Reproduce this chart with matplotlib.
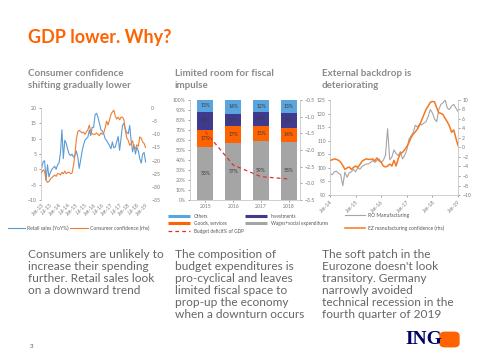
import matplotlib
matplotlib.use("Agg")
import matplotlib.pyplot as plt
import numpy as np

plt.rcParams['font.family'] = ['Lato', 'DejaVu Sans']

# ---- chart 1: retail sales vs consumer confidence (monthly, Jan-13 .. Jan-19)
retail_sales = [0.5, 2.5, 2.8, -3.5, 1.5, -2.5, -1.0, 0.0, 0.5, 1.0, 0.0, 1.5,
                2.0, 5.5, 12.9, 3.5, 9.5, 8.5, 6.5, 5.0, 4.5, 5.0, 4.0, 4.5,
                6.0, 4.0, 0.3, 3.0, 6.0, 8.0, 9.5, 10.0, 10.5, 12.7, 11.0, 13.7,
                13.7, 17.8, 18.3, 17.0, 15.0, 13.0, 12.5, 11.6, 10.0, 9.4, 8.5, 7.8,
                6.7, 8.9, 7.0, 7.3, 9.0, 10.7, 6.2, 10.2, 14.3, 15.0, 13.0, 12.0,
                11.6, 14.3, 9.4, 5.7, 8.0, 5.0, 7.3, 6.0, 3.5, 2.0, 5.0, 5.5, 2.4]
consumer_conf = [-24.5, -23.5, -24.0, -27.5, -28.3, -28.0, -27.0, -26.5, -26.0, -25.5, -26.0, -25.0,
                 -25.0, -25.5, -24.5, -25.0, -24.0, -25.0, -24.5, -24.5, -25.0, -24.8, -22.0, -18.0,
                 -12.0, -9.0, -8.5, -9.0, -9.5, -9.2, -10.0, -9.0, -8.3, -6.5, -9.0, -9.8,
                 -10.0, -10.0, -9.5, -10.0, -10.5, -9.5, -10.0, -9.5, -7.5, -5.0, -6.5, -4.5,
                 -2.5, -1.5, -0.8, -3.0, -4.2, -3.5, -4.5, -3.5, -3.5, -4.5, -8.5, -11.5,
                 -12.3, -14.2, -13.5, -12.5, -15.0, -15.5, -14.0, -14.5, -11.0, -11.5, -13.0, -13.5, -15.0]
c1_ticklabels = ["Jan-13", "Jul-13", "Jan-14", "Jul-14", "Jan-15", "Jul-15", "Jan-16",
                 "Jul-16", "Jan-17", "Jul-17", "Jan-18", "Jul-18", "Jan-19"]

# ---- chart 2: budget expenditure structure
years = ["2015", "2016", "2017", "2018"]
wages = [53, 57, 59, 58]
goods = [17, 17, 15, 14]
investments = [18, 12, 14, 15]
others = [13, 14, 12, 13]
deficit = [-1.45, -2.45, -2.8, -2.87]

# ---- chart 3: RO manufacturing vs EZ confidence (monthly, Jan-14 .. Jan-19)
ro_manuf = [97.8, 97.5, 98.5, 98.8, 98.0, 97.5, 93.4, 98.5, 96.5, 98.2, 98.5, 99.5,
            98.5, 100.0, 99.5, 100.5, 101.0, 101.4, 101.5, 102.0, 102.7, 102.0, 102.8, 103.3,
            102.0, 102.8, 104.6, 114.4, 103.0, 104.0, 106.6, 105.3, 104.5, 106.0, 103.3, 104.6,
            106.6, 110.5, 111.8, 113.0, 115.7, 115.0, 116.3, 115.8, 116.5, 117.0, 118.9, 121.5,
            120.2, 118.0, 117.0, 121.5, 123.4, 124.0, 125.0, 122.0, 121.5, 122.8, 123.4, 122.0,
            120.8]
ez_conf = [-2.7, -2.6, -2.4, -2.5, -2.7, -3.1, -3.8, -4.6, -4.3, -4.1, -4.6, -4.2,
           -3.9, -4.2, -3.6, -2.9, -2.6, -2.4, -2.5, -2.5, -2.4, -2.8, -2.2, -2.8,
           -3.1, -3.9, -4.1, -3.9, -3.5, -3.9, -2.7, -3.9, -2.3, -1.3, -1.0, -0.5,
           0.2, 1.0, 2.1, 2.8, 3.3, 3.9, 4.7, 5.8, 6.9, 8.0, 8.7, 9.5,
           9.7, 9.6, 8.4, 7.3, 7.2, 6.9, 6.1, 5.4, 4.5, 3.2, 3.7, 2.0,
           0.4]
c3_ticklabels = ["Jan-14", "Jan-15", "Jan-16", "Jan-17", "Jan-18", "Jan-19"]

W, H = 480, 360
fig = plt.figure(figsize=(4.8, 3.6), dpi=100)

def px_axes(x0, y0, x1, y1):
    # pixel box (top-left origin) -> figure axes
    return fig.add_axes([x0 / W, 1 - y1 / H, (x1 - x0) / W, (y1 - y0) / H])

grey_txt = "#7a7a7a"
tick_fs = 3.7
spine_c = "#c8c8c8"

def style(ax):
    for s in ["top", "right"]:
        ax.spines[s].set_visible(False)
    for s in ["left", "bottom"]:
        ax.spines[s].set_color(spine_c)
        ax.spines[s].set_linewidth(0.6)
    ax.tick_params(labelsize=tick_fs, colors=grey_txt, length=1.5, width=0.5, pad=1.5)

# title & headings
fig.text(28 / W, 1 - 37 / H, "GDP lower. Why?", color="#ff6200", fontsize=13,
         fontweight="bold", va="center", ha="left")
heads = [("Consumer confidence\nshifting gradually lower", 28),
         ("Limited room for fiscal\nimpulse", 175),
         ("External backdrop is\ndeteriorating", 322)]
for txt, x in heads:
    fig.text(x / W, 1 - 79.5 / H, txt, color="#8a8a8a", fontsize=7, fontweight="bold",
             va="center", ha="left", linespacing=1.45)

# ---------------- chart 1
ax1 = px_axes(41, 108, 147, 200)
m1 = np.arange(len(retail_sales))
ax1.plot(m1, retail_sales, color="#5b9bd5", lw=0.8)
ax1.set_ylim(-10, 20)
ax1.set_yticks(np.arange(-10, 21, 5))
ax1.set_xlim(-0.5, 73)
ax1.set_xticks(np.arange(0, 73, 6))
ax1.set_xticklabels(c1_ticklabels, rotation=45, ha="right", rotation_mode="anchor")
style(ax1)
ax1.spines["bottom"].set_visible(False)
ax1.tick_params(axis="x", length=0)
ax1b = ax1.twinx()
ax1b.plot(np.arange(len(consumer_conf)), consumer_conf, color="#ed7d31", lw=0.8)
ax1b.set_ylim(-35, 0)
ax1b.set_yticks(np.arange(-35, 1, 5))
for s in ["top", "left", "bottom", "right"]:
    ax1b.spines[s].set_visible(False)
ax1b.tick_params(labelsize=tick_fs, colors=grey_txt, length=0, pad=3)

# legend 1
fig.lines.append(plt.Line2D([8 / W, 25 / W], [1 - 228 / H] * 2, color="#5b9bd5", lw=0.8,
                            transform=fig.transFigure))
fig.text(27 / W, 1 - 228 / H, "Retail sales (YoY%)", fontsize=3.6, color="#555555", va="center")
fig.lines.append(plt.Line2D([70 / W, 88 / W], [1 - 228 / H] * 2, color="#ed7d31", lw=0.8,
                            transform=fig.transFigure))
fig.text(90 / W, 1 - 228 / H, "Consumer confidence (rhs)", fontsize=3.6, color="#555555",
         va="center")

# ---------------- chart 2
ax2 = px_axes(190, 100, 300, 200)
xb = np.arange(len(years))
bw = 0.58
c_wages, c_goods, c_inv, c_oth = "#a5a5a5", "#ff6200", "#3f3a8e", "#5aa5de"
bottom = np.zeros(len(years))
for vals, col in [(wages, c_wages), (goods, c_goods), (investments, c_inv), (others, c_oth)]:
    ax2.bar(xb, vals, bw, bottom=bottom, color=col)
    for i, v in enumerate(vals):
        ax2.text(xb[i], bottom[i] + v / 2, f"{v}%", ha="center", va="center",
                 fontsize=3.6, color="#3a3a3a")
    bottom += np.array(vals)
ax2.set_ylim(0, 100)
ax2.set_yticks(np.arange(0, 101, 10))
ax2.set_yticklabels([f"{v}%" for v in range(0, 101, 10)])
ax2.set_xlim(-0.55, 3.4)
ax2.set_xticks(xb)
ax2.set_xticklabels(years)
style(ax2)
ax2b = ax2.twinx()
ax2b.plot(xb, deficit, color="#e0302a", lw=0.9, ls=(0, (3, 2.5)))
ax2b.set_ylim(-3.5, -0.5)
ax2b.set_yticks(np.arange(-3.5, -0.4, 0.5))
for s in ["top", "left", "bottom"]:
    ax2b.spines[s].set_visible(False)
ax2b.spines["right"].set_color(spine_c)
ax2b.spines["right"].set_linewidth(0.6)
ax2b.tick_params(labelsize=tick_fs, colors=grey_txt, length=1.5, width=0.5, pad=1.5)

# legend 2
leg2 = [(168, 216, c_oth, "Others"), (245, 216, c_inv, "Investments"),
        (168, 223, c_goods, "Goods, services"),
        (245, 223, c_wages, "Wages+social expenditures")]
for x, y, col, lab in leg2:
    fig.lines.append(plt.Line2D([x / W, (x + 22) / W], [1 - y / H] * 2, color=col, lw=2.2,
                                transform=fig.transFigure, solid_capstyle="butt"))
    fig.text((x + 26) / W, 1 - y / H, lab, fontsize=3.4, color="#555555", va="center")
fig.lines.append(plt.Line2D([168 / W, 190 / W], [1 - 231 / H] * 2, color="#e0302a", lw=0.9,
                            ls=(0, (3, 2.5)), transform=fig.transFigure))
fig.text(194 / W, 1 - 231 / H, "Budget deficit% of GDP", fontsize=3.4, color="#555555",
         va="center")

# ---------------- chart 3
ax3 = px_axes(330, 100, 458, 195)
m3 = np.arange(len(ro_manuf))
ax3.plot(m3, ro_manuf, color="#a5a5a5", lw=0.8)
ax3.set_ylim(90, 125)
ax3.set_yticks(np.arange(90, 126, 5))
ax3.set_xlim(0, 60)
ax3.set_xticks(np.arange(0, 61, 12))
ax3.set_xticklabels(c3_ticklabels, rotation=45, ha="right", rotation_mode="anchor")
style(ax3)
ax3b = ax3.twinx()
ax3b.plot(np.arange(len(ez_conf)), ez_conf, color="#f47920", lw=1.1)
ax3b.set_ylim(-10, 10)
ax3b.set_yticks(np.arange(-10, 11, 2))
for s in ["top", "left", "bottom"]:
    ax3b.spines[s].set_visible(False)
ax3b.spines["right"].set_color(spine_c)
ax3b.spines["right"].set_linewidth(0.6)
ax3b.tick_params(labelsize=tick_fs, colors=grey_txt, length=1.5, width=0.5, pad=1.5)

# legend 3
fig.lines.append(plt.Line2D([345 / W, 365 / W], [1 - 215 / H] * 2, color="#a5a5a5", lw=0.8,
                            transform=fig.transFigure))
fig.text(368 / W, 1 - 215 / H, "RO Manufacturing", fontsize=3.6, color="#555555", va="center")
fig.lines.append(plt.Line2D([345 / W, 365 / W], [1 - 228 / H] * 2, color="#f47920", lw=1.1,
                            transform=fig.transFigure))
fig.text(368 / W, 1 - 228 / H, "EZ manufacturing confidence (rhs)", fontsize=3.6,
         color="#555555", va="center")

# body text
body = [("Consumers are unlikely to\nincrease their spending\nfurther. Retail sales look\n"
         "on a downward trend", 28),
        ("The composition of\nbudget expenditures is\npro-cyclical and leaves\n"
         "limited fiscal space to\nprop-up the economy\nwhen a downturn occurs", 175),
        ("The soft patch in the\nEurozone doesn't look\ntransitory. Germany\n"
         "narrowly avoided\ntechnical recession in the\nfourth quarter of 2019", 322)]
for txt, x in body:
    fig.text(x / W, 1 - 249 / H, txt, fontsize=8.6, color="#666666", va="top", ha="left",
             linespacing=1.12)

fig.text(30 / W, 1 - 347 / H, "3", fontsize=4.5, color="#555555", va="center")
fig.text(405 / W, 1 - 339 / H, "ING", fontsize=14, color="#000066", fontweight="bold",
         family=["Liberation Serif", "DejaVu Serif"], va="center")
fig.patches.append(matplotlib.patches.FancyBboxPatch((441 / W, 1 - 346 / H), 17 / W, 13 / H,
                   boxstyle="round,pad=0.002,rounding_size=0.01", color="#ff6200",
                   transform=fig.transFigure))

fig.savefig("out.png", dpi=100)
